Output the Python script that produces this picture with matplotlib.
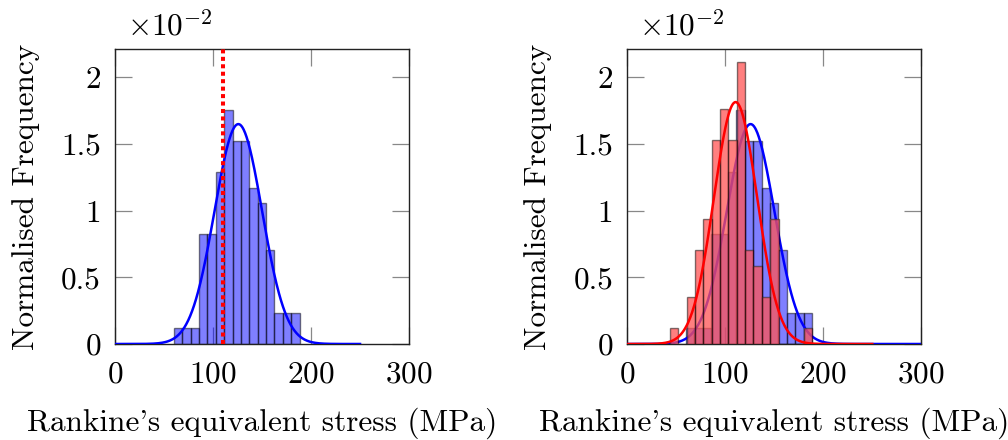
import numpy as np
from matplotlib import pyplot as plt

plt.rcParams['font.family'] = 'cmr10'
plt.rcParams['mathtext.fontset'] = 'cm'
plt.rcParams['axes.unicode_minus'] = False
plt.rcParams['axes.formatter.use_mathtext'] = True

#*************** DATA *****************
# normalised histogram heights (x1e-2)
blue_lo, blue_hi = 60.0, 188.4
blue_h = [0.1175, 0.1175, 0.1175, 0.8225, 0.8225, 1.29, 1.755, 1.5225,
          1.5225, 1.1725, 1.055, 0.705, 0.235, 0.235, 0.235]

red_lo, red_hi = 43.5, 188.4
red_h = [0.1175, 0.0, 0.3525, 0.705, 0.94, 1.5275, 1.7625, 1.5275, 2.115,
         0.705, 0.5875, 0.3525, 0.94, 0.0, 0.0, 0.0, 0.1175]

# fitted normal distributions (mean, std) in MPa
blue_mu, blue_sd = 125.8, 24.2
red_mu, red_sd = 110.5, 22.0

limit_stress = 110.0

xticks = [0, 100, 200, 300]
yticks = [0, 0.5, 1, 1.5, 2]
ytick_labels = ['0', '0.5', '1', '1.5', '2']

FS = 22.5


#*************** HELPERS *****************
def gauss(x, mu, sd):
  return 100.0 * np.exp(-0.5 * ((x - mu) / sd) ** 2) / (sd * np.sqrt(2 * np.pi))

def draw_hist(ax, lo, hi, h, fc, z=2, veil=False):
  edges = np.linspace(lo, hi, len(h) + 1)
  if veil:
    # lighten what lies underneath, like the original's blending
    ax.bar(edges[:-1], h, width=np.diff(edges), align='edge',
           color=(1, 1, 1, 0.5), linewidth=0, zorder=z)
  ax.bar(edges[:-1], h, width=np.diff(edges), align='edge',
         color=fc, edgecolor=(0, 0, 0, 0.5), linewidth=1.0, zorder=z)

def style(ax):
  ax.set_xlim(0, 300)
  ax.set_ylim(0, 2.21)
  ax.set_xticks(xticks)
  ax.set_yticks(yticks)
  ax.set_yticklabels(ytick_labels)
  ax.tick_params(direction='in', length=12, width=0.9, color='#888888',
                 top=True, right=True, labelsize=FS)
  ax.tick_params(axis='x', pad=12)
  ax.tick_params(axis='y', pad=10)
  for s in ax.spines.values():
    s.set_linewidth(1.0)
    s.set_color('#222222')
  ax.set_xlabel("Rankine's equivalent stress (MPa)", fontsize=FS)
  ax.set_ylabel('Normalised Frequency', fontsize=FS)
  ax.xaxis.set_label_coords(0.5, -0.215)
  ax.yaxis.set_label_coords(-0.255, 0.5)
  ax.text(0.04, 1.025, r'$\times10^{-2}$', transform=ax.transAxes,
          fontsize=FS, ha='left', va='bottom')


#*************** PLOT *****************
fig = plt.figure(figsize=(10.08, 4.4), dpi=100)
ax1 = fig.add_axes([0.1141, 0.2182, 0.2917, 0.67])
ax2 = fig.add_axes([0.6223, 0.2182, 0.2917, 0.67])

draw_hist(ax1, blue_lo, blue_hi, blue_h, (0, 0, 1, 0.5))
x = np.linspace(0, 250, 500)
ax1.plot(x, gauss(x, blue_mu, blue_sd), color='blue', lw=1.8, zorder=3)
ax1.axvline(limit_stress, color='red', ls=(0, (1, 0.85)), lw=2.9, zorder=4)
style(ax1)

draw_hist(ax2, blue_lo, blue_hi, blue_h, (0, 0, 1, 0.5), z=2)
x2 = np.linspace(0, 300, 600)
ax2.plot(x2, gauss(x2, blue_mu, blue_sd), color='blue', lw=1.8, zorder=3)
draw_hist(ax2, red_lo, red_hi, red_h, (1, 0, 0, 0.5), z=4, veil=True)
ax2.plot(x, gauss(x, red_mu, red_sd), color='red', lw=1.8, zorder=5)
style(ax2)

plt.savefig('out.png', dpi=100)
